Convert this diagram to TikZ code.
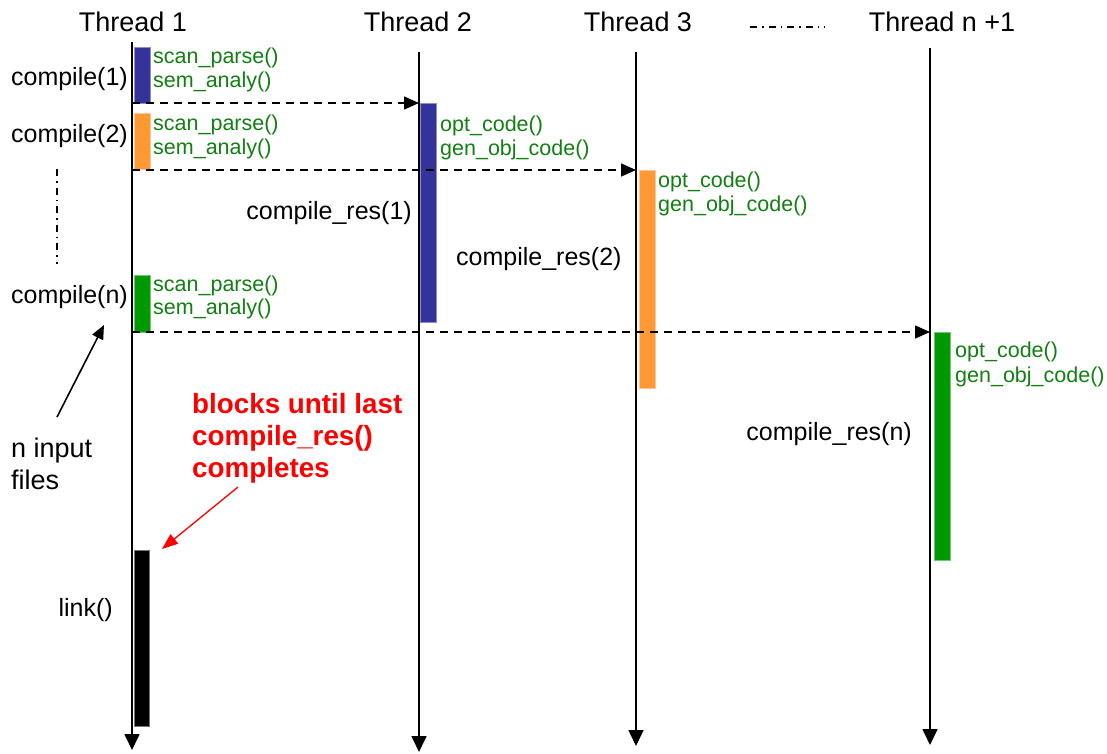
\documentclass[tikz,border=0pt]{standalone}
\usepackage{fontspec}
\setmainfont{Liberation Sans}
\usetikzlibrary{arrows.meta}

\definecolor{barblue}{HTML}{333399}
\definecolor{barorange}{HTML}{FF9933}
\definecolor{bargreen}{HTML}{009900}
\definecolor{fngreen}{HTML}{127F12}
\definecolor{notered}{HTML}{FF0000}

\tikzset{
  lifeline/.style={line width=1.6pt, -{Triangle[length=16pt,width=15pt]}},
  msg/.style={line width=1.6pt, dash pattern=on 8pt off 6pt, -{Triangle[length=15pt,width=13pt]}},
  dashdot/.style={line width=1.3pt, dash pattern=on 7pt off 5pt on 1.5pt off 5pt},
  title/.style={font=\fontsize{27}{31}\selectfont, inner sep=0pt, anchor=base},
  lbl/.style={font=\fontsize{25}{29}\selectfont, inner sep=0pt},
  fn/.style={font=\fontsize{21.5}{24}\selectfont, text=fngreen, inner sep=0pt, anchor=base west},
  note/.style={font=\fontsize{27.8}{32}\selectfont\bfseries, text=notered, inner sep=0pt, anchor=base west},
  bar/.style={draw=#1!55!white, fill=#1, line width=0.6pt},
}

\begin{document}
\begin{tikzpicture}[x=1pt, y=-1pt]
\useasboundingbox (0,0) rectangle (1107,753);

% thread headings
\node[title] (h1) at (133,31) {Thread 1};
\node[title] (h2) at (418,31) {Thread 2};
\node[title] (h3) at (638,31) {Thread 3};
\node[title] (hn) at (942,31) {Thread n +1};
\coordinate (dd1) at (750,27);
\coordinate (dd2) at (825,27);
\draw[dashdot] (dd1) -- (dd2);

% lifelines
\coordinate (t1top) at (132,42);  \coordinate (t1bot) at (132,750);
\coordinate (t2top) at (419,52);  \coordinate (t2bot) at (419,752);
\coordinate (t3top) at (636,52);  \coordinate (t3bot) at (636,746);
\coordinate (tntop) at (930,48);  \coordinate (tnbot) at (930,745);

% activation bars
\fill[bar=barblue]   (134,47)  rectangle (150,103);
\fill[bar=barorange] (134,113) rectangle (150,169);
\fill[bar=bargreen]  (134,275) rectangle (150,332);
\fill[bar=black]     (134,550) rectangle (149,726);
\fill[bar=barblue]   (420,103) rectangle (436,322);
\fill[bar=barorange] (639,170) rectangle (655,388);
\fill[bar=bargreen]  (934,332) rectangle (950,560);

\draw[lifeline] (t1top) -- (t1bot);
\draw[lifeline] (t2top) -- (t2bot);
\draw[lifeline] (t3top) -- (t3bot);
\draw[lifeline] (tntop) -- (tnbot);

% hand-offs between threads
\coordinate (s1) at (132,103); \coordinate (e1) at (419,103);
\coordinate (s2) at (132,170); \coordinate (e2) at (636,170);
\coordinate (s3) at (132,332); \coordinate (e3) at (930,332);
\draw[msg] (s1) -- (e1);
\draw[msg] (s2) -- (e2);
\draw[msg] (s3) -- (e3);

% thread 1 calls
\node[lbl, anchor=base east] (c1) at (128,85)  {compile(1)};
\node[lbl, anchor=base east] (c2) at (128,142) {compile(2)};
\node[lbl, anchor=base east] (cn) at (128,303) {compile(n)};
\node[fn] (sp1) at (153,63)  {scan\_parse()};
\node[fn] (sa1) at (153,87)  {sem\_analy()};
\node[fn] (sp2) at (153,130) {scan\_parse()};
\node[fn] (sa2) at (153,154) {sem\_analy()};
\node[fn] (spn) at (153,291) {scan\_parse()};
\node[fn] (san) at (153,314) {sem\_analy()};

% vertical ellipsis between compile calls
\coordinate (vd1) at (57,169);
\coordinate (vd2) at (57,264);
\draw[dashdot] (vd1) -- (vd2);

% worker threads
\node[fn] (oc2) at (440,131) {opt\_code()};
\node[fn] (gc2) at (440,155) {gen\_obj\_code()};
\node[fn] (oc3) at (658,187) {opt\_code()};
\node[fn] (gc3) at (658,211) {gen\_obj\_code()};
\node[fn] (ocn) at (955,357) {opt\_code()};
\node[fn] (gcn) at (955,382) {gen\_obj\_code()};

\node[lbl, anchor=base east] (r1) at (412,219) {compile\_res(1)};
\node[lbl, anchor=base west] (r2) at (456,265) {compile\_res(2)};
\node[lbl, anchor=base east] (rn) at (912,440) {compile\_res(n)};

% inputs
\node[lbl, font=\fontsize{27}{32}\selectfont, anchor=base west] (in1) at (11,457) {n input};
\node[lbl, font=\fontsize{27}{32}\selectfont, anchor=base west] (in2) at (11,489) {files};
\coordinate (inarr) at (57,417);
\coordinate (cnarr) at (104,325);
\draw[line width=1.6pt, -{Triangle[length=14pt,width=12pt]}] (inarr) -- (cnarr);

% link step
\node[lbl, anchor=base east] (lk) at (113,616) {link()};
\node[note] (n1) at (192,413) {blocks until last};
\node[note] (n2) at (192,445) {compile\_res()};
\node[note] (n3) at (192,477) {completes};
\coordinate (ra1) at (238,487);
\coordinate (ra2) at (162,549);
\draw[notered, line width=1.3pt, -{Triangle[length=16pt,width=12pt]}] (ra1) -- (ra2);
\end{tikzpicture}
\end{document}
